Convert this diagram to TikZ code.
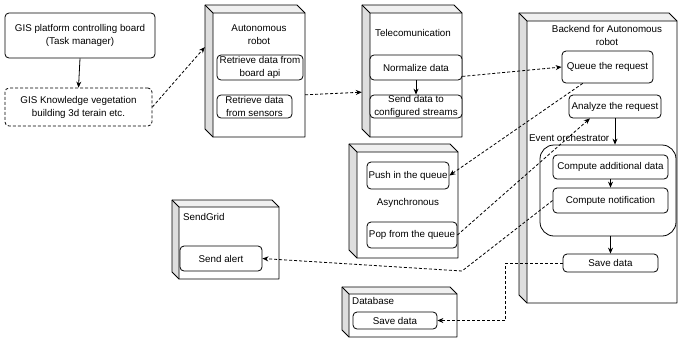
\documentclass[tikz,border=0pt]{standalone}
\usepackage{fontspec}
\setmainfont{Liberation Sans}
\usetikzlibrary{arrows.meta,calc}
\definecolor{sidegray}{RGB}{222,222,222}
\definecolor{topgray}{RGB}{240,240,240}
\tikzset{
  base/.style={font=\fontsize{9.8}{13}\selectfont, align=center, inner sep=0pt},
  rbox/.style={base, draw, rounded corners=4pt, fill=white, line width=0.8pt},
  dbox/.style={rbox, dash pattern=on 3pt off 2pt},
  lbl/.style={base},
  conn/.style={line width=0.8pt, -{Stealth[length=6pt,width=5pt]}},
  dconn/.style={conn, dash pattern=on 3pt off 2pt},
  cubeline/.style={line width=0.8pt, line join=round},
}
\newcommand\boxnode[7]{\node[#1, minimum width={(#5-#3)*1pt}, minimum height={(#6-#4)*1pt}] (#2) at ({(#3+#5)/2},{(#4+#6)/2}) {#7};}
\newcommand\mycube[6]{%
  \fill[sidegray] (#2,#3) -- ({#2+#6},{#3+#6}) -- ({#2+#6},#5) -- (#2,{#5-#6}) -- cycle;
  \fill[topgray] (#2,#3) -- ({#4-#6},#3) -- (#4,{#3+#6}) -- ({#2+#6},{#3+#6}) -- cycle;
  \draw[cubeline] (#2,#3) -- ({#4-#6},#3) -- (#4,{#3+#6}) -- (#4,#5) -- ({#2+#6},#5) -- (#2,{#5-#6}) -- cycle;
  \draw[cubeline] (#2,#3) -- ({#2+#6},{#3+#6}) -- (#4,{#3+#6}) ({#2+#6},{#3+#6}) -- ({#2+#6},#5);
  \node[inner sep=0pt, minimum width={(#4-#2)*1pt}, minimum height={(#5-#3)*1pt}] (#1) at ({(#2+#4)/2},{(#3+#5)/2}) {};
}
\begin{document}
\begin{tikzpicture}[x=1pt,y=-1pt]
\useasboundingbox[fill=white] (0,0) rectangle (680,338);

% top-left boxes
\boxnode{rbox}{gisp}{5}{13}{155}{58}{GIS platform controlling board\\(Task manager)}
\boxnode{dbox}{gisk}{5}{88}{152}{126}{GIS Knowledge vegetation\\building 3d terain etc.}

% Autonomous robot
\mycube{robot}{205}{5}{305}{137}{8}
\boxnode{lbl}{robott}{213}{20}{305}{50}{Autonomous\\robot}
\boxnode{rbox}{rapi}{217}{55}{303}{80}{Retrieve data from\\board api}
\boxnode{rbox}{rsens}{217}{95}{292}{118}{Retrieve data\\from sensors}

% Telecomunication
\mycube{tele}{362}{5}{462}{137}{8}
\node[lbl] (telet) at (413,33) {Telecomunication};
\boxnode{rbox}{norm}{370}{55}{462}{80}{Normalize data}
\boxnode{rbox}{send}{370}{95}{462}{118}{Send data to\\configured streams}

% Backend
\mycube{back}{519}{13}{677}{303}{8}
\node[lbl] (backt) at (607,35) {Backend for Autonomous\\robot};
\boxnode{rbox}{queue}{562}{51}{653}{83}{Queue the request}
\boxnode{rbox}{analyze}{569}{95}{661}{118}{Analyze the request}
\node[draw, rounded corners=14pt, line width=0.8pt, inner sep=0pt, minimum width=136pt, minimum height=91pt] (evo) at (608,190.5) {};
\node[lbl, anchor=west] (evot) at (529,138) {Event orchestrator};
\boxnode{rbox}{cad}{553}{155}{668}{179}{Compute additional data}
\boxnode{rbox}{cnot}{553}{188}{668}{213}{Compute notification}
\boxnode{rbox}{save1}{563}{254}{658}{272}{Save data}

% Asynchronous
\mycube{async}{349}{144}{458}{258}{8}
\boxnode{rbox}{push}{367}{162}{449}{189}{Push in the queue}
\node[lbl] (asyt) at (408,203) {Asynchronous};
\boxnode{rbox}{pop}{367}{222}{457}{248}{Pop from the queue}

% SendGrid
\mycube{sendgrid}{172}{200}{279}{279}{7}
\node[lbl, anchor=west] (sgt) at (183,217) {SendGrid};
\boxnode{rbox}{alert}{180}{246}{262}{271}{Send alert}

% Database
\mycube{db}{342}{287}{457}{337}{7}
\node[lbl, anchor=west] (dbt) at (352,301) {Database};
\boxnode{rbox}{dbsave}{353}{312}{437}{329}{Save data}

% connectors
\draw[conn] (gisp.south) -- (gisk.north);
\draw[dconn] (gisk.east) -- ($(robot.north west)!0.32!(robot.south west)$);
\draw[dconn] ($(robot.north east)!0.68!(robot.south east)$) -- ($(tele.north west)!0.66!(tele.south west)$);
\draw[conn] (norm.south) -- (send.north);
\draw[dconn] ($(norm.south east)+(0,-4)$) -- (queue.west);
\draw[dconn] ($(queue.south west)!0.23!(queue.south east)$) -- (push.east);
\draw[dconn] (pop.east) -- ($(analyze.south west)!0.23!(analyze.south east)$);
\draw[conn] (analyze.south) -- (analyze.south |- evo.north);
\draw[conn] (cad.south) -- (cnot.north);
\draw[conn] (save1.north |- evo.south) -- (save1.north);
\coordinate (w1) at (462,271);
\draw[dconn] (cnot.west) -- (w1) -- (alert.east);
\draw[dconn] (save1.west) -- ++(-57,0) |- (dbsave.east);
\end{tikzpicture}
\end{document}
